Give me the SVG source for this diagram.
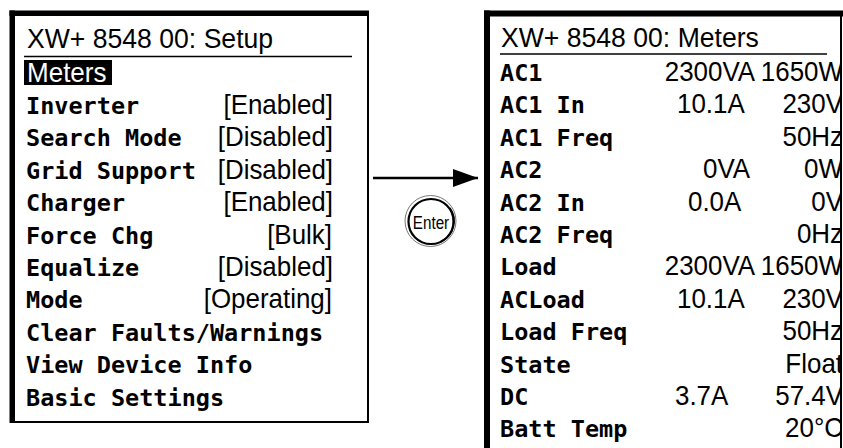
<svg xmlns="http://www.w3.org/2000/svg" width="843" height="448" viewBox="0 0 843 448">
  <style>
    .lbl { font-family: "DejaVu Sans Mono", "Liberation Mono", monospace; font-weight: bold; font-size: 23.5px; fill: #000; }
    .val { font-family: "Liberation Sans", Arial, sans-serif; font-size: 28.5px; fill: #000; }
    .hdr { font-family: "Liberation Sans", Arial, sans-serif; font-size: 28px; fill: #000; }
    .end { text-anchor: end; }
    .thick { fill: #000; }
    .thin { stroke: #000; stroke-width: 2; fill: none; }
    .rule { stroke: #000; stroke-width: 1.6; }
  </style>
  <defs>
    <marker id="head" markerUnits="userSpaceOnUse" markerWidth="26" markerHeight="20" refX="25" refY="9.5" orient="auto">
      <path d="M0,0.5 L25,9.5 L0,18.5 Z" fill="#000"/>
    </marker>
    <clipPath id="meters-clip">
      <rect x="484" y="0" width="357" height="448"/>
    </clipPath>
  </defs>

  <rect width="843" height="448" fill="#fff"/>

  <!-- Setup menu screen -->
  <g id="setup-screen">
    <path class="thin" d="M12,12 H368 V422 H12 Z"/>
    <rect class="thick" x="9.5" y="10.5" width="359.5" height="5.5"/>
    <rect class="thick" x="9.5" y="10.5" width="5.5" height="412.5"/>
    <text class="hdr" transform="translate(27,48) scale(0.95,1)">XW+ 8548 00: Setup</text>
    <line class="rule" x1="24" y1="56.5" x2="352" y2="56.5"/>
    <rect x="24" y="60" width="88" height="25" fill="#000"/>
    <text class="hdr" transform="translate(27,81.5) scale(0.93,1)" style="fill:#fff">Meters</text>

    <text class="lbl" x="26" y="113.9">Inverter</text>
    <text class="val end" transform="translate(333,113.9) scale(0.91,1)">[Enabled]</text>
    <text class="lbl" x="26" y="146.3">Search Mode</text>
    <text class="val end" transform="translate(333,146.3) scale(0.91,1)">[Disabled]</text>
    <text class="lbl" x="26" y="178.7">Grid Support</text>
    <text class="val end" transform="translate(333,178.7) scale(0.91,1)">[Disabled]</text>
    <text class="lbl" x="26" y="211.1">Charger</text>
    <text class="val end" transform="translate(333,211.1) scale(0.91,1)">[Enabled]</text>
    <text class="lbl" x="26" y="243.5">Force Chg</text>
    <text class="val end" transform="translate(332,243.5) scale(0.91,1)">[Bulk]</text>
    <text class="lbl" x="26" y="275.9">Equalize</text>
    <text class="val end" transform="translate(333,275.9) scale(0.91,1)">[Disabled]</text>
    <text class="lbl" x="26" y="308.3">Mode</text>
    <text class="val end" transform="translate(332,308.3) scale(0.91,1)">[Operating]</text>
    <text class="lbl" x="26" y="340.7">Clear Faults/Warnings</text>
    <text class="lbl" x="26" y="373.1">View Device Info</text>
    <text class="lbl" x="26" y="405.5">Basic Settings</text>
  </g>

  <!-- Enter key -->
  <g id="enter-key">
    <circle cx="430.5" cy="221" r="25.5" fill="none" stroke="#777" stroke-width="1"/>
    <circle cx="431" cy="221.5" r="22.5" fill="#fff" stroke="#000" stroke-width="2.2"/>
    <path d="M450,208 A22.5,22.5 0 0 1 441,241.5" fill="none" stroke="#000" stroke-width="1.4"/>
    <text text-anchor="middle" font-family="Liberation Sans, Arial, sans-serif" font-size="19" transform="translate(431,228.5) scale(0.8,1)">Enter</text>
  </g>

  <!-- Meters screen -->
  <g id="meters-screen">
    <g clip-path="url(#meters-clip)">
      <text class="hdr" transform="translate(501,46.7) scale(0.95,1)">XW+ 8548 00: Meters</text>
      <line class="rule" x1="500" y1="54" x2="827" y2="54"/>

      <text class="lbl" x="500" y="81">AC1</text>
      <text class="val end" transform="translate(843,81) scale(0.91,1)">2300VA 1650W</text>
      <text class="lbl" x="500" y="113.4">AC1 In</text>
      <text class="val" transform="translate(677,113.4) scale(0.91,1)">10.1A</text>
      <text class="val end" transform="translate(843,113.4) scale(0.91,1)">230V</text>
      <text class="lbl" x="500" y="145.8">AC1 Freq</text>
      <text class="val end" transform="translate(843,145.8) scale(0.91,1)">50Hz</text>
      <text class="lbl" x="500" y="178.2">AC2</text>
      <text class="val" transform="translate(703,178.2) scale(0.91,1)">0VA</text>
      <text class="val end" transform="translate(843,178.2) scale(0.91,1)">0W</text>
      <text class="lbl" x="500" y="210.6">AC2 In</text>
      <text class="val" transform="translate(688,210.6) scale(0.91,1)">0.0A</text>
      <text class="val end" transform="translate(843,210.6) scale(0.91,1)">0V</text>
      <text class="lbl" x="500" y="243">AC2 Freq</text>
      <text class="val end" transform="translate(843,243) scale(0.91,1)">0Hz</text>
      <text class="lbl" x="500" y="275.4">Load</text>
      <text class="val end" transform="translate(843,275.4) scale(0.91,1)">2300VA 1650W</text>
      <text class="lbl" x="500" y="307.8">ACLoad</text>
      <text class="val" transform="translate(677,307.8) scale(0.91,1)">10.1A</text>
      <text class="val end" transform="translate(843,307.8) scale(0.91,1)">230V</text>
      <text class="lbl" x="500" y="340.2">Load Freq</text>
      <text class="val end" transform="translate(843,340.2) scale(0.91,1)">50Hz</text>
      <text class="lbl" x="500" y="372.6">State</text>
      <text class="val end" transform="translate(843,372.6) scale(0.91,1)">Float</text>
      <text class="lbl" x="500" y="405">DC</text>
      <text class="val" transform="translate(675,405) scale(0.91,1)">3.7A</text>
      <text class="val end" transform="translate(843,405) scale(0.91,1)">57.4V</text>
      <text class="lbl" x="500" y="437.4">Batt Temp</text>
      <text class="val end" transform="translate(843,437.4) scale(0.91,1)">20°C</text>
    </g>
    <line x1="841" y1="11" x2="841" y2="448" stroke="#000" stroke-width="2"/>
    <rect class="thick" x="484" y="10.5" width="359" height="6"/>
    <rect class="thick" x="484" y="10.5" width="6" height="437.5"/>
  </g>

  <!-- connectors -->
  <g id="connectors">
    <line x1="373" y1="178" x2="478" y2="178" stroke="#000" stroke-width="2.6" marker-end="url(#head)"/>
  </g>
</svg>
